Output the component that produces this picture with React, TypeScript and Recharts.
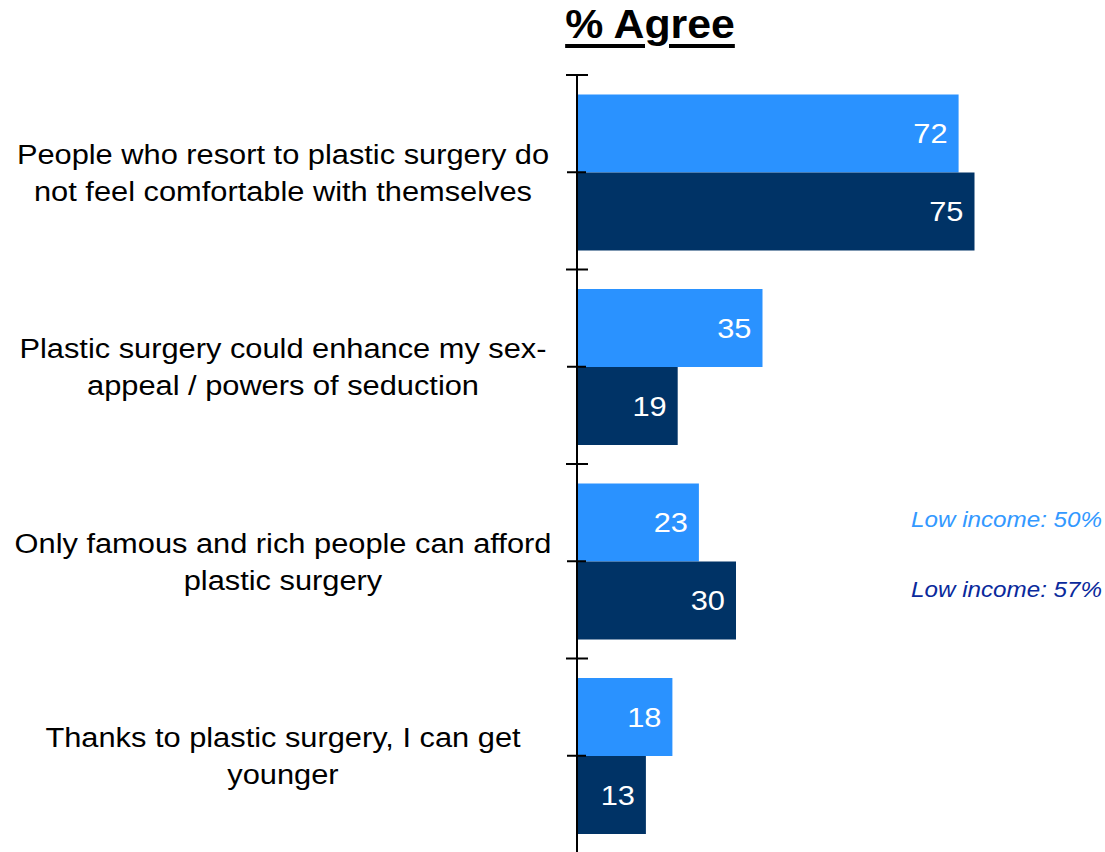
import { BarChart, Bar, XAxis, YAxis, LabelList } from 'recharts';

const statements = [
    ['People who resort to plastic surgery do', 'not feel comfortable with themselves'],
    ['Plastic surgery could enhance my sex-', 'appeal / powers of seduction'],
    ['Only famous and rich people can afford', 'plastic surgery'],
    ['Thanks to plastic surgery, I can get', 'younger'],
];
const lightValues = [72, 35, 23, 18];
const darkValues = [75, 19, 30, 13];
const lightNotes = ['', '', 'Low income: 50%', ''];
const darkNotes = ['', '', 'Low income: 57%', ''];

const LIGHT = '#2A92FF';
const DARK = '#003366';
const AXIS_X = 577;
const LABEL_X = 283;
const STRETCH = 1.1;
const FONT = 'Arial, "Liberation Sans", sans-serif';

const data = statements.map((lines, i) => ({
    label: lines.join('\n'),
    light: lightValues[i],
    dark: darkValues[i],
    lightNote: lightNotes[i],
    darkNote: darkNotes[i],
}));

// text in the source is a bit wider than plain Arial, so stretch it horizontally
const stretch = (x: number) => `translate(${x} 0) scale(${STRETCH} 1) translate(${-x} 0)`;

function StatementTick(props: any) {
    const { y, payload, index } = props;
    const half = payload?.offset ?? 97;
    const lines = String(payload.value).split('\n');
    return (
        <g>
            <line x1={AXIS_X - 10} x2={AXIS_X + 9} y1={y} y2={y} stroke="#000" strokeWidth={2} />
            <line x1={AXIS_X - 11} x2={AXIS_X + 11} y1={y - half} y2={y - half} stroke="#000" strokeWidth={2} />
            {index === statements.length - 1 && (
                <line x1={AXIS_X - 11} x2={AXIS_X + 11} y1={y + half} y2={y + half} stroke="#000" strokeWidth={2} />
            )}
            <text x={LABEL_X} y={y} textAnchor="middle" fontSize={28} fill="#000" fontFamily={FONT} transform={stretch(LABEL_X)}>
                {lines.map((t, k) => (
                    <tspan key={k} x={LABEL_X} y={y + (k - (lines.length - 1) / 2) * 37} dominantBaseline="central">
                        {t}
                    </tspan>
                ))}
            </text>
        </g>
    );
}

function ValueLabel(props: any) {
    const { x, y, width, height, value } = props;
    const tx = x + width - 11;
    return (
        <text
            x={tx}
            y={y + height / 2}
            textAnchor="end"
            dominantBaseline="central"
            fontSize={28}
            fill="#fff"
            fontFamily={FONT}
            transform={stretch(tx)}
        >
            {value}
        </text>
    );
}

const noteLabel = (color: string, shift: number) => (props: any) => {
    const { y, height, value } = props;
    if (!value) return null;
    return (
        <text
            x={1102}
            y={y + height / 2 + shift}
            textAnchor="end"
            dominantBaseline="central"
            fontSize={22}
            fontStyle="italic"
            fill={color}
            fontFamily={FONT}
            transform={stretch(1102)}
        >
            {value}
        </text>
    );
};

export default function App() {
    return (
        <div style={{ position: 'absolute', top: 0, left: 0, width: 1105, height: 852, overflow: 'hidden', background: '#fff', fontFamily: FONT }}>
            <div
                style={{
                    position: 'absolute',
                    top: 4,
                    left: 450,
                    width: 400,
                    textAlign: 'center',
                    fontSize: 40,
                    lineHeight: '40px',
                    fontWeight: 'bold',
                    textDecoration: 'underline',
                    textDecorationThickness: 4,
                    textUnderlineOffset: 6,
                    transform: 'scaleX(1.07)',
                }}
            >
                % Agree
            </div>
            <BarChart
                width={1110}
                height={860}
                data={data}
                layout="vertical"
                margin={{ top: 75, right: 3, bottom: 7, left: 0 }}
                barCategoryGap="10%"
                barGap={0}
            >
                <XAxis type="number" domain={[0, 100]} hide />
                <YAxis
                    type="category"
                    dataKey="label"
                    width={AXIS_X}
                    interval={0}
                    axisLine={{ stroke: '#000', strokeWidth: 2 }}
                    tickLine={false}
                    tick={<StatementTick />}
                />
                <Bar dataKey="light" fill={LIGHT} isAnimationActive={false}>
                    <LabelList dataKey="light" content={<ValueLabel />} />
                    <LabelList dataKey="lightNote" content={noteLabel('#3399FF', -3)} />
                </Bar>
                <Bar dataKey="dark" fill={DARK} isAnimationActive={false}>
                    <LabelList dataKey="dark" content={<ValueLabel />} />
                    <LabelList dataKey="darkNote" content={noteLabel('#0A2A9C', -11)} />
                </Bar>
            </BarChart>
        </div>
    );
}
